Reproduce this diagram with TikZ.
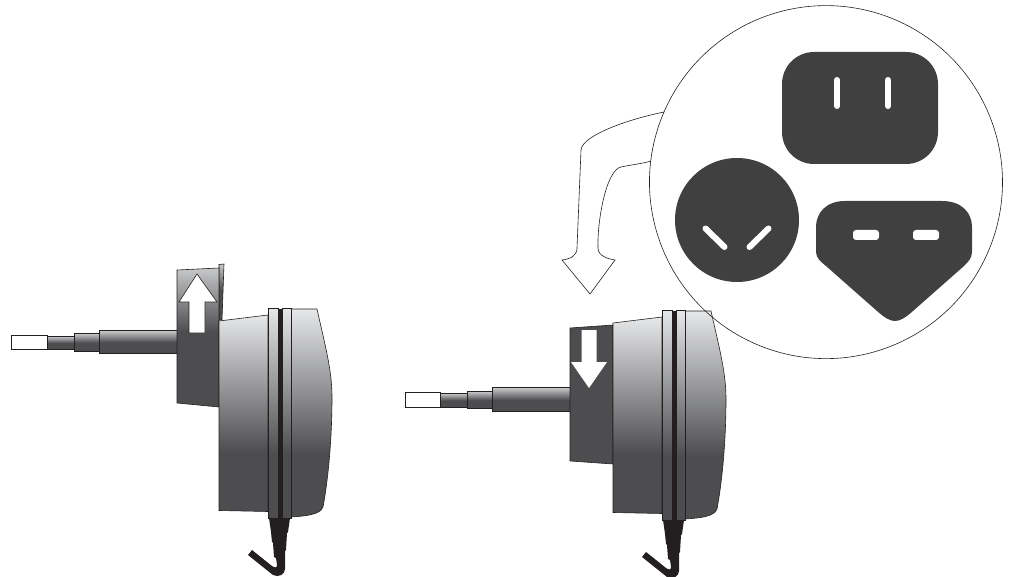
\documentclass[tikz,border=0pt]{standalone}
\definecolor{ink}{HTML}{231F20}
\definecolor{socket}{HTML}{404041}
\definecolor{dk}{HTML}{4D4D4F}
\definecolor{lt}{HTML}{E6E7E8}
\pgfdeclareverticalshading{bodysh}{100bp}{color(0bp)=(dk); color(40bp)=(dk); color(75bp)=(lt); color(100bp)=(lt)}
\pgfdeclareverticalshading{pinsh}{100bp}{color(0bp)=(dk); color(48bp)=(dk); color(75bp)=(lt!85!dk); color(100bp)=(lt!85!dk)}
\pgfdeclareverticalshading{platesh}{100bp}{color(0bp)=(dk); color(52bp)=(dk); color(75bp)=(lt!80!dk); color(100bp)=(lt!80!dk)}
\tikzset{
  edge/.style={draw=ink,line width=0.6pt},
  bodypart/.style={edge,shading=bodysh},
  pinpart/.style={edge,shading=pinsh},
  platepart/.style={edge,shading=platesh},
  flatpart/.style={edge,fill=dk},
  tipbox/.style={edge,fill=white},
  blackpart/.style={fill=ink},
  socketshape/.style={fill=socket},
  slot/.style={draw=white,line width=6pt,line cap=round},
  flatslot/.style={fill=white,rounded corners=3pt},
  thin outline/.style={draw=ink,line width=0.6pt},
}
\newcommand{\adapterbody}{%
  % rear housing
  \path[bodypart] (291,309) -- (317,309) .. controls (325,345) and (332,370) .. (332,397)
     .. controls (332,440) and (328,480) .. (323,507) .. controls (320,515) and (305,516) .. (291,517) -- cycle;
  % front housing
  \path[bodypart] (219,321) -- (268,315) -- (268,511.5) -- (219,510.5) -- cycle;
  % cord
  \path[blackpart] (269,518) -- (290,518) -- (288,532) -- (287,533) -- (286,550) -- (285,551) -- (285,569)
     .. controls (285,574) and (279,578) .. (273,575) -- (248,555) -- (252,550) -- (272,566)
     .. controls (275,568) and (277,568) .. (277,565) -- (276,558)
     -- (274,557) -- (273,543) -- (272,542) -- (271,532) -- cycle;
  % collars
  \path[bodypart] (268,308) rectangle (278,518);
  \path[blackpart] (278,309) rectangle (282,518);
  \path[bodypart] (282,308) rectangle (291,518);
}
\begin{document}
\begin{tikzpicture}[x=1pt,y=-1pt]
\useasboundingbox (0,0) rectangle (1014,577);

% left adapter
\path[tipbox] (11,335) rectangle (47,349);
\path[pinpart] (47,336) rectangle (74,349);
\path[pinpart] (74,333) rectangle (99,351);
\path[pinpart] (99,330) rectangle (177,353);
\path[platepart] (219,264.5) -- (224,264) -- (222,320) -- (219,320) -- cycle;
\path[platepart] (177,270) -- (219,268) -- (219,407) -- (177,403) -- cycle;
\path[thin outline,fill=white] (197,274) -- (217,302) -- (205,302) -- (205,333) -- (189,333) -- (189,302) -- (179,302) -- cycle;
\begin{scope}[shift={(0,0)}]\adapterbody\end{scope}

% right adapter
\path[tipbox] (405,392) rectangle (440,407);
\path[pinpart] (440,393) rectangle (467,407);
\path[pinpart] (467,391) rectangle (492,408);
\path[pinpart] (492,387) rectangle (570,411);
\path[flatpart] (570,328) -- (613,325) -- (613,464) -- (570,461) -- cycle;
\path[fill=white] (581.5,330) -- (596.5,330) -- (596.5,362) -- (607,362) -- (589,388) -- (571,362) -- (581.5,362) -- cycle;
\begin{scope}[shift={(394,2)}]\adapterbody\end{scope}

% callout outline
\path[thin outline] (664,112)
  arc[start angle=203.4,end angle=-173.2,radius=176.5]
  .. controls (640,164) and (630,165) .. (621,167)
  .. controls (606,170) and (597,222) .. (598,248)
  .. controls (598,256) and (608,259) .. (615,260)
  -- (590,294) -- (562,260)
  .. controls (570,259) and (577,256) .. (577,248)
  -- (581,150)
  .. controls (582,136) and (625,120) .. (664,112);

% sockets
\node[socketshape,draw=none,inner sep=0pt,minimum width=156pt,minimum height=112pt,rounded corners=32pt,rectangle] (us) at (860,108) {};
\draw[slot] (837,80) -- (837,106);
\draw[slot] (888,80) -- (888,106);

\node[socketshape,circle,draw=none,inner sep=0pt,minimum size=124pt] (round) at (737,220) {};
\draw[slot] (705.5,228.5) -- (724.5,247);
\draw[slot] (768.5,228.5) -- (749.5,247);

\path[socketshape] (845,201) -- (942,201) .. controls (962,201) and (972,213) .. (972,227)
  -- (972,252) .. controls (972,258) and (968,262) .. (964,266)
  -- (913,311) .. controls (905,318) and (900,321) .. (895,321)
  .. controls (890,321) and (885,318) .. (877,311)
  -- (826,266) .. controls (821,262) and (816,258) .. (816,252)
  -- (816,227) .. controls (816,213) and (826,201) .. (845,201) -- cycle;
\path[flatslot] (853,230) rectangle (879,240);
\path[flatslot] (913,230) rectangle (939,240);
\end{tikzpicture}
\end{document}
